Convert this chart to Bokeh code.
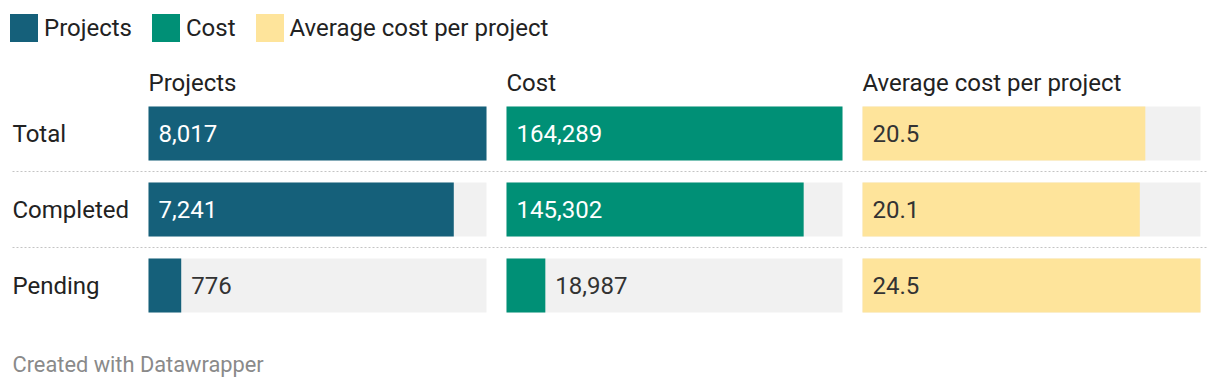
from bokeh.plotting import figure
from bokeh.models import Range1d, Label, Legend, LegendItem, ColumnDataSource
from bokeh.core.properties import value
from bokeh.embed import file_html
from bokeh.resources import INLINE

# ---------------- data ----------------
rows = ["Total", "Completed", "Pending"]
projects = [8017, 7241, 776]
cost = [164289, 145302, 18987]
avg_cost = [20.5, 20.1, 24.5]
projects_labels = ["8,017", "7,241", "776"]
cost_labels = ["164,289", "145,302", "18,987"]
avg_labels = ["20.5", "20.1", "24.5"]
series_names = ["Projects", "Cost", "Average cost per project"]
footer_text = "Created with Datawrapper"

# ---------------- style ----------------
FONT = value("Roboto")
colors = ["#15607a", "#009076", "#fee49b"]
inside_text = ["#ffffff", "#ffffff", "#333333"]
BG = "#f1f1f1"
TXT = "#222222"

W, H = 1212, 382
p = figure(width=W, height=H, x_range=Range1d(0, W), y_range=Range1d(H, 0),
           output_backend="svg", toolbar_location=None, min_border=0,
           x_axis_location=None, y_axis_location=None)
p.grid.visible = False
p.outline_line_color = None
p.background_fill_color = "white"
p.border_fill_color = "white"

# row band geometry (pixel layout)
first_center, pitch = 133.0, 76.0
p.extra_y_ranges = {"rows": Range1d(start=(H - first_center) / pitch, end=-first_center / pitch)}
ys = list(range(len(rows)))
bar_h = 54.0 / pitch

# panels: left edge and width in px
panels = [(148, 338), (506, 336), (862, 338)]
series = [projects, cost, avg_cost]
labels = [projects_labels, cost_labels, avg_labels]

# separators
sep_src = ColumnDataSource(dict(x0=[12] * (len(rows) - 1), x1=[1208] * (len(rows) - 1),
                                y=[i + 0.5 for i in range(len(rows) - 1)]))
p.segment(x0="x0", x1="x1", y0="y", y1="y", source=sep_src, y_range_name="rows",
          line_color="#c4c4c4", line_width=1.2, line_dash="2 2")

renderers = []
for k, ((L, PW), vals, labs) in enumerate(zip(panels, series, labels)):
    M = max(vals)
    s = M / PW
    name = f"panel{k}"
    p.extra_x_ranges[name] = Range1d(start=-L * s, end=(W - L) * s)
    p.hbar(y=ys, left=0, right=[M] * len(vals), height=bar_h, fill_color=BG, line_color=None,
           x_range_name=name, y_range_name="rows")
    r = p.hbar(y=ys, left=0, right=vals, height=bar_h, fill_color=colors[k], line_color=None,
               x_range_name=name, y_range_name="rows")
    renderers.append(r)
    inside = [v / M > 0.25 for v in vals]
    src = ColumnDataSource(dict(
        x=[0 if ins else v for ins, v in zip(inside, vals)],
        y=ys, t=labs,
        c=[inside_text[k] if ins else "#333333" for ins in inside]))
    p.text(x="x", y="y", text="t", source=src, x_offset=10, y_offset=0,
           text_color="c", text_font=FONT, text_font_size="24px", text_baseline="middle",
           x_range_name=name, y_range_name="rows")
    p.add_layout(Label(x=0, y=82, x_range_name=name, text=series_names[k], text_font="Roboto",
                       text_font_size="24px", text_color=TXT, text_baseline="middle"))

# row labels
p.text(x=[12] * len(rows), y=ys, text=rows, y_range_name="rows", y_offset=0,
       text_font=FONT, text_font_size="24px", text_color=TXT, text_baseline="middle")

# footer
p.add_layout(Label(x=12, y=364, text=footer_text, text_font="Roboto", text_font_size="21.8px",
                   text_color="#8a8a8a", text_baseline="middle"))

# legend
legend = Legend(items=[LegendItem(label=n, renderers=[r]) for n, r in zip(series_names, renderers)],
                orientation="horizontal", location=(6, H - 45),
                glyph_width=35, glyph_height=35, label_standoff=3, spacing=16,
                label_height=35, label_text_font="Roboto", label_text_font_size="24px",
                label_text_color=TXT, padding=0, margin=0, border_line_color=None,
                background_fill_alpha=0)
p.add_layout(legend)

open("out.html", "w").write(file_html(p, INLINE))
